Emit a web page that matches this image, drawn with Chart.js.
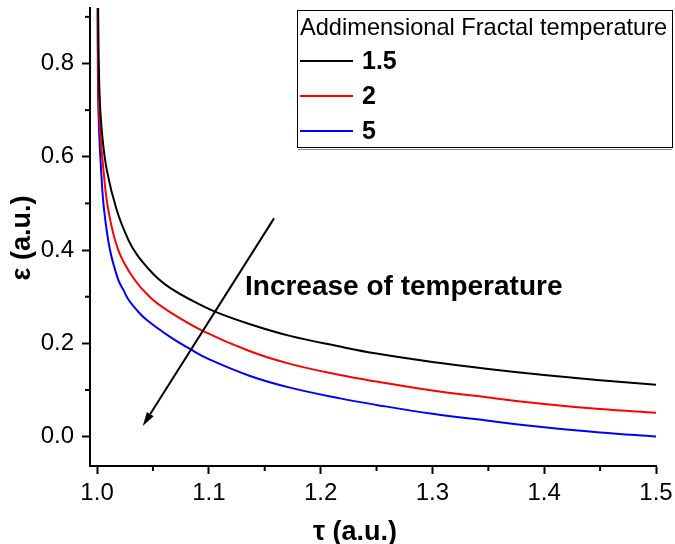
<!DOCTYPE html>
<html>
<head>
<meta charset="utf-8">
<script src="https://cdn.jsdelivr.net/npm/chart.js@4.4.1/dist/chart.umd.min.js"></script>
<style>
  body { margin: 0; background: #fff; }
  #chart { display: block; }
</style>
</head>
<body>
<canvas id="chart" width="675" height="544"></canvas>
<script>
// series labels (addimensional fractal temperature)
const seriesLabels = ["1.5", "2", "5"];
const seriesColors = ["#000000", "#ff0000", "#0000ff"];

// black curve, T = 1.5
const tauBlack = [1.0008, 1.0021, 1.0042, 1.0087, 1.0176, 1.028, 1.036, 1.0459, 1.055, 1.0653, 1.0832, 1.1055, 1.1369, 1.1726, 1.2174, 1.25, 1.3, 1.35, 1.4, 1.45, 1.5];
const epsBlack = [0.95, 0.743, 0.657, 0.572, 0.486, 0.422, 0.389, 0.360, 0.338, 0.319, 0.294, 0.268, 0.241, 0.216, 0.193, 0.178, 0.160, 0.145, 0.132, 0.121, 0.111];

// red curve, T = 2
const tauRed = [1.0006, 1.0012, 1.0027, 1.0057, 1.0101, 1.019, 1.0325, 1.0474, 1.0653, 1.0936, 1.1369, 1.1726, 1.2174, 1.25, 1.3, 1.35, 1.4, 1.45, 1.5];
const epsRed = [0.95, 0.743, 0.657, 0.572, 0.486, 0.400, 0.340, 0.299, 0.267, 0.228, 0.183, 0.156, 0.132, 0.118, 0.099, 0.084, 0.070, 0.059, 0.051];

// blue curve, T = 5
const tauBlue = [1.0005, 1.0009, 1.0018, 1.0036, 1.0063, 1.0116, 1.019, 1.0235, 1.028, 1.036, 1.0445, 1.0653, 1.0832, 1.1, 1.1369, 1.1726, 1.2174, 1.25, 1.3, 1.35, 1.4, 1.45, 1.5];
const epsBlue = [0.95, 0.743, 0.657, 0.572, 0.486, 0.400, 0.336, 0.315, 0.294, 0.270, 0.250, 0.214, 0.188, 0.166, 0.130, 0.105, 0.082, 0.068, 0.049, 0.034, 0.020, 0.009, 0.0];

// axis ticks
const xMajor = [1.0, 1.1, 1.2, 1.3, 1.4, 1.5];
const xMinor = [1.05, 1.15, 1.25, 1.35, 1.45];
const yMajor = [0.0, 0.2, 0.4, 0.6, 0.8];
const yMinor = [0.1, 0.3, 0.5, 0.7, 0.9];

// arrow annotation, data units: [tau, eps] from tail to tip
const arrowTail = [1.1583, 0.468];
const arrowTip = [1.0409, 0.023];
const arrowText = "Increase of temperature";
const legendTitle = "Addimensional Fractal temperature";

const FONT = "'Liberation Sans', Arial, sans-serif";

function toPoints(xs, ys) {
  return xs.map((x, i) => ({ x: x, y: ys[i] }));
}

const datasets = [
  toPoints(tauBlack, epsBlack),
  toPoints(tauRed, epsRed),
  toPoints(tauBlue, epsBlue)
].map((pts, i) => ({
  label: seriesLabels[i],
  data: pts,
  borderColor: seriesColors[i],
  borderWidth: 2,
  borderJoinStyle: "round",
  showLine: true,
  pointRadius: 0,
  tension: 0.4
}));

// minor ticks, axis titles, legend box and arrow
const decor = {
  id: "decor",
  afterDraw(chart) {
    const c = chart.ctx;
    const xs = chart.scales.x, ys = chart.scales.y;
    const area = chart.chartArea;
    c.save();
    c.strokeStyle = "#000";
    c.fillStyle = "#000";
    c.lineWidth = 2;

    // minor ticks
    xMinor.forEach(v => {
      const px = xs.getPixelForValue(v);
      c.beginPath(); c.moveTo(px, area.bottom); c.lineTo(px, area.bottom + 5); c.stroke();
    });
    yMinor.forEach(v => {
      const py = ys.getPixelForValue(v);
      c.beginPath(); c.moveTo(area.left, py); c.lineTo(area.left - 5, py); c.stroke();
    });

    // axis titles
    c.font = "bold 27px " + FONT;
    c.textAlign = "center";
    c.textBaseline = "alphabetic";
    c.fillText("τ (a.u.)", 355, 540);
    c.save();
    c.translate(30, 238);
    c.rotate(-Math.PI / 2);
    c.fillText("ε (a.u.)", 0, 0);
    c.restore();

    // arrow
    const x1 = xs.getPixelForValue(arrowTail[0]), y1 = ys.getPixelForValue(arrowTail[1]);
    const x2 = xs.getPixelForValue(arrowTip[0]), y2 = ys.getPixelForValue(arrowTip[1]);
    const ang = Math.atan2(y2 - y1, x2 - x1);
    const headLen = 14, headW = 4;
    const bx = x2 - headLen * Math.cos(ang), by = y2 - headLen * Math.sin(ang);
    c.beginPath(); c.moveTo(x1, y1); c.lineTo(bx, by); c.stroke();
    c.beginPath();
    c.moveTo(x2, y2);
    c.lineTo(bx + headW * Math.sin(ang), by - headW * Math.cos(ang));
    c.lineTo(bx - headW * Math.sin(ang), by + headW * Math.cos(ang));
    c.closePath();
    c.fill();

    c.font = "bold 28px " + FONT;
    c.textAlign = "left";
    c.fillText(arrowText, 245, 295);

    // legend
    c.lineWidth = 1;
    c.fillStyle = "#fff";
    c.fillRect(297, 11, 375, 137);
    c.strokeStyle = "#888";
    c.beginPath(); c.moveTo(298, 149.5); c.lineTo(672, 149.5); c.stroke();
    c.strokeStyle = "#000";
    c.strokeRect(297.5, 10.5, 375, 137);
    c.fillStyle = "#000";
    c.font = "23.6px " + FONT;
    c.fillText(legendTitle, 300, 35);
    c.font = "bold 25px " + FONT;
    c.textBaseline = "middle";
    chart.data.datasets.forEach((ds, i) => {
      const ry = 61 + i * 35;
      c.strokeStyle = ds.borderColor;
      c.lineWidth = 2;
      c.beginPath(); c.moveTo(300, ry); c.lineTo(353, ry); c.stroke();
      c.fillText(ds.label, 362, ry + 1);
    });
    c.restore();
  }
};

const axisCommon = {
  type: "linear",
  grid: { drawOnChartArea: false, drawTicks: true, tickLength: 8, tickWidth: 2, tickColor: "#000", color: "#000" },
  border: { display: true, width: 2, color: "#000" }
};

new Chart(document.getElementById("chart"), {
  type: "scatter",
  data: { datasets: datasets },
  options: {
    responsive: false,
    animation: false,
    devicePixelRatio: 1,
    layout: { padding: { left: 0, top: 8, right: 19, bottom: 0 } },
    plugins: { legend: { display: false }, tooltip: { enabled: false } },
    scales: {
      x: Object.assign({}, axisCommon, {
        min: 0.9937,
        max: 1.5,
        afterBuildTicks: s => { s.ticks = xMajor.map(v => ({ value: v })); },
        afterFit: s => { s.height = 78; s.paddingLeft = 0; s.paddingRight = 0; },
        ticks: { color: "#000", padding: 5, font: { family: FONT, size: 24 }, callback: v => v.toFixed(1) }
      }),
      y: Object.assign({}, axisCommon, {
        min: -0.063,
        max: 0.919,
        afterBuildTicks: s => { s.ticks = yMajor.map(v => ({ value: v })); },
        afterFit: s => { s.width = 90; s.paddingTop = 0; s.paddingBottom = 0; },
        ticks: { color: "#000", padding: 8, font: { family: FONT, size: 24 }, callback: v => v.toFixed(1) }
      })
    }
  },
  plugins: [decor]
});
</script>
</body>
</html>
